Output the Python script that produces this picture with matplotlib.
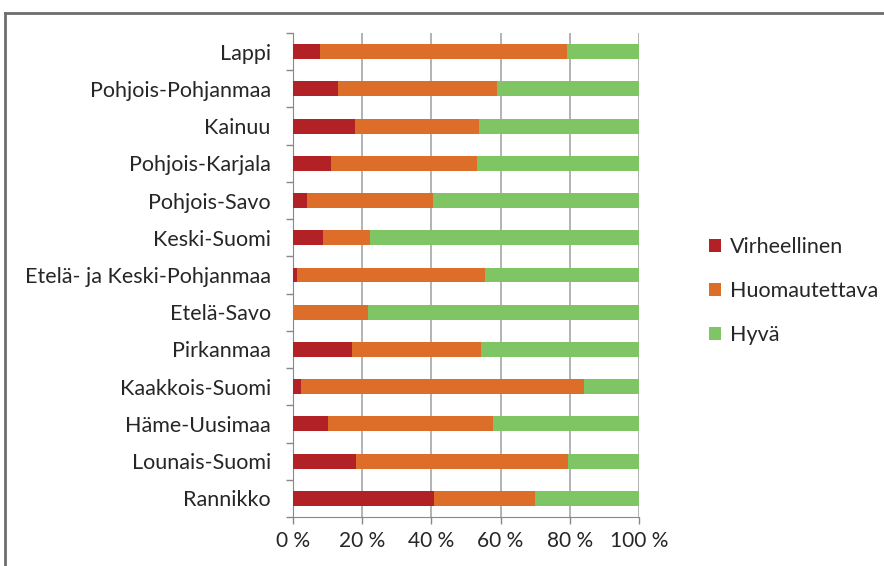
import matplotlib.pyplot as plt
import numpy as np
from matplotlib.lines import Line2D

plt.rcParams['font.family'] = ['Lato', 'DejaVu Sans']
plt.rcParams['text.color'] = '#262626'
plt.rcParams['xtick.labelcolor'] = '#262626'
plt.rcParams['ytick.labelcolor'] = '#262626'

# Alueet ylhäältä alas
alueet = ['Lappi', 'Pohjois-Pohjanmaa', 'Kainuu', 'Pohjois-Karjala', 'Pohjois-Savo',
          'Keski-Suomi', 'Etelä- ja Keski-Pohjanmaa', 'Etelä-Savo', 'Pirkanmaa',
          'Kaakkois-Suomi', 'Häme-Uusimaa', 'Lounais-Suomi', 'Rannikko']
virheellinen = [7.7, 13.0, 17.9, 11.0, 4.1, 8.8, 1.2, 0.0, 17.0, 2.4, 10.0, 18.2, 40.8]
huomautettava = [71.6, 46.0, 35.9, 42.1, 36.5, 13.4, 54.4, 21.8, 37.3, 81.8, 47.9, 61.4, 29.2]
hyva = [20.7, 41.0, 46.2, 46.9, 59.4, 77.8, 44.4, 78.2, 45.7, 15.8, 42.1, 20.4, 30.0]

sarjat = ['Virheellinen', 'Huomautettava', 'Hyvä']
varit = ['#B22126', '#DD6E2A', '#80C563']

fig = plt.figure(figsize=(8.84, 5.66), dpi=100)
ax = fig.add_axes([293/884, 1 - 517/566, 346/884, 484/566])

y = np.arange(len(alueet))[::-1]
vasen = np.zeros(len(alueet))
for nimi, arvot, vari in zip(sarjat, [virheellinen, huomautettava, hyva], varit):
    ax.barh(y, arvot, left=vasen, height=0.4, color=vari, label=nimi, zorder=3)
    vasen = vasen + np.array(arvot)

ax.set_xlim(0, 100)
ax.set_ylim(-0.5, len(alueet) - 0.5)
ax.set_yticks(y)
ax.set_yticklabels(alueet, fontsize=15.5)
ax.set_yticks(np.arange(-0.5, len(alueet)), minor=True)
ax.tick_params(axis='y', which='major', length=0, pad=16)
ax.tick_params(axis='y', which='minor', length=5, color='#888888', width=1)
ax.set_xticks(np.arange(0, 101, 20))
ax.set_xticklabels([f'{v} %' for v in range(0, 101, 20)], fontsize=15)
ax.tick_params(axis='x', length=5, color='#888888', width=1, pad=5)
ax.grid(axis='x', color='#A6A6A6', linewidth=1.2, zorder=0)
for s in ['top', 'right']:
    ax.spines[s].set_visible(False)
for s in ['left', 'bottom']:
    ax.spines[s].set_color('#888888')

fig.legend(loc='center left', bbox_to_anchor=(690/884, 1 - 291/566), frameon=False,
           fontsize=15.5, labelspacing=1.1, handlelength=0.55, handleheight=0.55,
           handletextpad=0.4)

# kehys kuvan ympärillä
fig.add_artist(Line2D([5/884, 5/884], [0, 1 - 13/566], color='#6E6E6E', linewidth=2))
fig.add_artist(Line2D([5/884, 1], [1 - 13/566, 1 - 13/566], color='#6E6E6E', linewidth=2))

fig.savefig('out.png', dpi=100)
